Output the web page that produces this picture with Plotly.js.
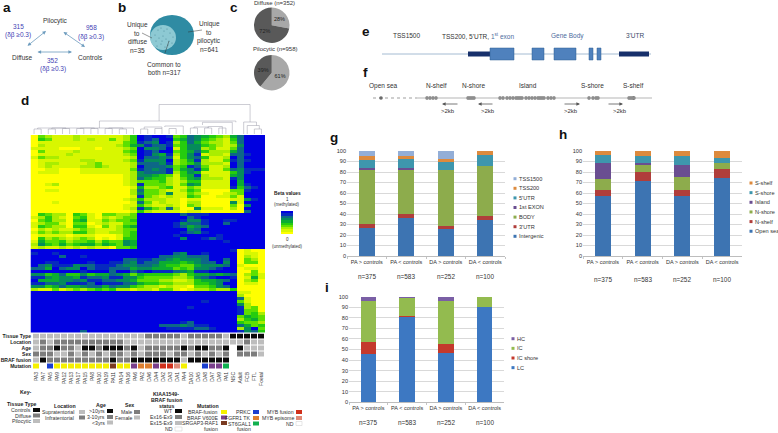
<!DOCTYPE html>
<html><head><meta charset="utf-8">
<script src="https://cdn.plot.ly/plotly-3.0.1.min.js"></script>
<style>html,body{margin:0;padding:0;background:#fff}#c{width:778px;height:433px}</style>
</head><body><div id="c"></div>
<script>
// ---------- DATA ----------
const samples = ["PA3","PA7","PA5","PA9","PA12","PA13","PA17","PA15","PA8","PA10","PA19","PA11","PA14","PA16","PA6","PA2","DA6","DA4","DA2","DA3","DA1","PA4","DA10","DA5","DA8","DA7","DA9","PA1","NSC","Adult","FCB","FTL","Foetal"];
// beta values per probe row, one digit per sample (0 = yellow ... 9 = blue)
const betaRows = [
"032111211111124 98998347654325 7999","043111212113124 98799457643214 7999","011111111111134 87698247532213 7999",
"021111111111235 68778346643212 6999","111100011011123 96679146623113 7999","031111211111134 98799345742225 7999",
"011112111111123 98658246812217 7899","132211111111112 97767146741129 7999","011111122111123 86669235821138 7899",
"012211112311112 77768234622219 7999","012111122321112 97776348731129 7999","001100011111113 87678356841137 6888",
"011100011111112 67778246511114 6899","000000000000012 66543145821115 6999","000000000000012 75442135622218 6999",
"000000000000012 33342124411119 5999","001200000000012 83332136511119 5899","000000000000001 52234113211118 4789",
"001100000000002 73321124300003 3899","000000000000002 63326113210012 3999","000000000000001 83212114300113 1999",
"000000000000012 42221101100001 1689","000100000000001 73121102200006 1999","000000000000011 42112103200003 0699",
"000000000000012 85327200611102 0999","000000000000001 42111101100000 0799",
"043220431033223 99999978889999 9999","124210341021233 99999997899999 9999","034220451132334 99999986689988 9999",
"123310330121133 99999867789979 9999","143220441031245 99999875679999 9999","021211232111233 99999996799999 9999",
"132322442112234 99999987689999 9999","011110111000134 99999899999899 9999","042321232010144 99999969987899 9999",
"153342334243365 99999999999989 9999","264353455354365 99999999999999 9999","121121212110334 99999999999999 9999",
"999999999999999 99999999999998 0100","899899999999999 99999769989999 0110","999979989999999 99977667779999 0210",
"999999999999977 88776566679979 0320","998899998998876 87755545677969 0330","976888677888766 77654433566679 1000",
"775976697887775 66555343667899 0110","999999989997997 89888765889999 0030","664574464557653 54444324556567 0231",
"886566587768866 43333223678998 0151","955566768877665 33322112455679 0230","887768887988877 54433222445699 0110",
"664575567757664 32212110334679 0000","211312323434221 22133101223224 0000",
"999999999999999 99999999999999 1100","999999999999999 99999999999999 2000","999999999999999 99999999999999 7100",
"999999999999999 99999999989999 3100","999999999999999 99999999999999 6200","999999999999999 99999998999999 8230",
"999999999999999 99999999999999 8330","999999999999999 99999999999999 8342","999999999999999 99999999999999 3543",
"999999999999999 99999999999999 2453","999999999999999 99999987999999 4332","999999999999999 99977767889999 7534",
"999999999999999 99998888778999 2693","999999979999999 99999999999999 8674"];
const tileLabels = ["Tissue Type","Location","Age","Sex","BRAF fusion","Mutation"];
// 0 white, 1 light, 2 mid, 3 black, 4 yellow, 5 purple, 6 brown, 7 blue, 8 orange, 9 green, a red, b light red
const tileRows = [
"111111111111111 1222221 22222 1 33333",
"121222222222211 1111111 11111 1 11211",
"122322133233323 1222223 23322 3 03111",
"222112121212212 1222122 12121 2 02221",
"132222222223223 3333331 33333 3 00000",
"40744444444644 5 88 5 aa b 4 00 7 55 9 00000"];
const tileColours = ["#ffffff","#bdbdbd","#7d7d7d","#0a0a0a","#f5f000","#7a3f8c","#7a3a20","#1a3fd0","#dd7f30","#10b050","#d0301c","#e08a78"];
const dendLeft  = [0,2,4,6,8,10,12,0.5,2.5,6.5,10.5,15,17,19,15.5,18.4,22,24,26,22.5,24.5,23.7,9.2,17.6,29.5,30,31];
const dendRight = [1,3,5,7,9,11,13,14,4.5,8.5,12.5,16,18,20,18,21,23,25,27,24.5,26.5,27.9,28.4,30.4,31.3,31.7,32];
const dendTop   = [5,5,5.5,5.5,5.5,5.5,5,6,6,6,6,5,5.5,5.5,7,8,6,6,6,7,7.5,11.7,13,29.5,12,8.5,5];
const dendDropL = [0,0,0,0,0,0,0,5,5,5.5,5.5,0,0,0,5,7,0,0,0,6,6,9,6,13,0,0,0];
const dendDropR = [0,0,0,0,0,0,0,0,5.5,5.5,5,0,0,0,5.5,0,0,0,0,6,0,0,11.7,12,8.5,5,0];
const comparisons = ["PA > controls","PA < controls","DA > controls","DA < controls"];
const counts = ["n=375","n=583","n=252","n=100"];
const gNames = ["Intergenic","3'UTR","BODY","1st EXON","5'UTR","TSS200","TSS1500"];
const gValues = [[27,36.5,26,34],[3.5,3.5,3,4],[51.5,42,52.5,48],[2,1.5,0.5,0],[7,8.5,7.5,10],[4,3.5,2.5,4],[5,4.5,8,0]];
const hNames = ["Open sea","N-shelf","N-shore","Island","S-shore","S-shelf"];
const hValues = [[57,71.5,57,74],[6,8.5,6,8.5],[10.5,7,12,6],[15,1.5,12,0.5],[7.5,7,8.5,4],[4,4.5,4.5,7]];
const iNames = ["LC","IC shore","IC","HC"];
const iValues = [[46,81,47,90],[11.5,1,8.5,0],[38.5,17,40.5,10],[4,1,4,0]];
const gColours = ["#3d74b2","#b03e3b","#8dac4c","#6a4e91","#3e96ad","#dd8a3d","#93aed7"];
const hColours = ["#3d74b2","#b03e3b","#8dac4c","#6a4e91","#3e96ad","#dd8a3d"];
const iColours = ["#3d78c2","#c4392c","#93bb4f","#7a5fa5"];
const pieLabels = ["Methylated A","Methylated B"];
const pieDiffuse = [28,72];
const piePilocytic = [61,39];
const cpgSites = [381,427,430,433,436,468,470,472,474,500,503,507,510,513,516,518,520,522,526,529,532,535,538,540,542,544,548,551,554,589,593,596,598,629,631,633,634];
const legendBeta = [[9],[8],[7],[6],[5],[4],[3],[2],[1],[0]];
const vennDotsX = [155,158,161,164,167,170,173,156,159,163,166,169,172,157,161,165,168,162];
const vennDotsY = [35,30,28,31,29,33,37,41,38,36,39,41,43,46,44,47,45,41];

// ---------- HELPERS ----------
const W=778,H=433;
const dx=(a,b)=>[a/W,b/W], dy=(a,b)=>[1-b/H,1-a/H];
const px=x=>x/W, py=y=>1-y/H;
const annotations=[], shapes=[];
const FONT='"Liberation Sans",Arial,sans-serif';
function T(text,x,y,size,opt={}){
  annotations.push(Object.assign({text,xref:'paper',yref:'paper',x:px(x),y:py(y),showarrow:false,
    xanchor:opt.a||'center',yanchor:'middle',borderpad:0,
    font:{family:FONT,size,color:opt.c||'#333'}},opt.ref||{}));
}
function Rect(x0,y0,x1,y1,fill,line,w){
  shapes.push({type:'rect',xref:'paper',yref:'paper',x0:px(x0),x1:px(x1),y0:py(y0),y1:py(y1),fillcolor:fill,
    line:{color:line||fill,width:line?(w||0.5):0}});
}
function L(x0,y0,x1,y1,color,width,dash){
  shapes.push({type:'line',xref:'paper',yref:'paper',x0:px(x0),x1:px(x1),y0:py(y0),y1:py(y1),line:{color,width,dash:dash||'solid'}});
}
function Arrow(x0,y0,x1,y1,color,both){
  annotations.push({xref:'paper',yref:'paper',axref:'pixel',ayref:'pixel',x:px(x1),y:py(y1),ax:x0-x1,ay:y0-y1,text:'',
    showarrow:true,arrowhead:2,arrowsize:0.9,arrowwidth:0.8,arrowcolor:color,arrowside:both?'end+start':'end',standoff:0,startstandoff:0});
}
const parse=s=>s.replace(/ /g,'').split('').map(c=>parseInt(c,16));
const traces=[];
const layout={width:W,height:H,margin:{l:0,r:0,t:0,b:0},paper_bgcolor:'#fff',plot_bgcolor:'rgba(0,0,0,0)',
  showlegend:false,barmode:'stack',bargap:0.6,font:{family:FONT,color:'#333'},annotations,shapes};

// ---------- OVERLAY ----------
layout.xaxis={domain:[0,1],range:[0,W],visible:false,fixedrange:true};
layout.yaxis={domain:[0,1],range:[H,0],visible:false,fixedrange:true};

// ---------- d: heatmap ----------
const betaScale=[[0,'#ffff00'],[0.2,'#b8f000'],[0.4,'#30d800'],[0.6,'#00a040'],[0.8,'#0f6090'],[0.95,'#0004e0'],[1,'#0000e0']];
traces.push({type:'heatmap',z:betaRows.map(parse),xaxis:'x2',yaxis:'y2',zmin:0,zmax:9,colorscale:betaScale,showscale:false,hoverinfo:'skip'});
layout.xaxis2={domain:dx(30.5,265),range:[-0.5,32.5],visible:false,anchor:'y2'};
layout.yaxis2={domain:dy(135,332.5),range:[betaRows.length-0.5,-0.5],visible:false,anchor:'x2'};

// dendrogram
const dX=[],dY=[];
dendLeft.forEach((l,i)=>{dX.push(l,l,dendRight[i],dendRight[i],null);dY.push(dendDropL[i],dendTop[i],dendTop[i],dendDropR[i],null);});
traces.push({type:'scatter',mode:'lines',x:dX,y:dY,xaxis:'x2',yaxis:'y8',line:{color:'#9a9aa8',width:0.5},hoverinfo:'skip'});
layout.yaxis8={domain:dy(104,134),range:[0,30],visible:false,anchor:'x2'};

// tiles
const tileZ=tileRows.map(parse);
const n=tileColours.length;
const tileScale=[];tileColours.forEach((c,i)=>{tileScale.push([i/n,c],[(i+1)/n,c]);});
traces.push({type:'heatmap',z:tileZ,x:samples.map((s,i)=>i),y:tileLabels.map((s,i)=>i),xaxis:'x3',yaxis:'y3',zmin:-0.5,zmax:n-0.5,
  colorscale:tileScale,showscale:false,xgap:1,ygap:1,hoverinfo:'skip'});
layout.xaxis3={domain:dx(33,265),range:[-0.5,32.5],anchor:'y3',tickmode:'array',tickvals:samples.map((s,i)=>i),ticktext:samples,
  tickangle:-90,tickfont:{size:5,color:'#333'},ticklen:0,showgrid:false,zeroline:false,showline:false};
layout.yaxis3={domain:dy(333.5,369),range:[5.5,-0.5],anchor:'x3',tickmode:'array',tickvals:tileLabels.map((s,i)=>i),
  ticktext:tileLabels.map(s=>'<b>'+s+'</b>'),tickfont:{size:5,color:'#222'},ticklen:0,showgrid:false,zeroline:false,showline:false};

// beta colour legend
traces.push({type:'heatmap',z:legendBeta,xaxis:'x7',yaxis:'y7',zmin:0,zmax:9,colorscale:betaScale,showscale:false,hoverinfo:'skip'});
layout.xaxis7={domain:dx(281,293),visible:false,anchor:'y7'};
layout.yaxis7={domain:dy(211,234),visible:false,anchor:'x7',range:[9.5,-0.5]};
T('<b>Beta values</b>',287,193.5,4.8,{c:'#222'});T('1',287,199,4.5);T('(methylated)',287,204.5,4.5);
T('0',287,240,4.5);T('(unmethylated)',287,246,4.5);

// ---------- g h i: stacked bars ----------
function bars(idx,names,vals,colours,x0,x1,yTop,yBot,nY,lx,ly,dyL){
  const xa='x'+idx, ya='y'+idx;
  names.forEach((nm,i)=>traces.push({type:'bar',name:nm,x:comparisons,y:vals[i],xaxis:xa,yaxis:ya,marker:{color:colours[i],line:{width:0}},hoverinfo:'skip'}));
  layout['xaxis'+idx]={domain:dx(x0,x1),anchor:ya,type:'category',categoryorder:'array',categoryarray:comparisons,tickangle:0,
    tickfont:{size:5.5,color:'#333'},ticks:'outside',tickson:'boundaries',ticklen:2,tickcolor:'#c4c4c4',linecolor:'#bdbdbd',linewidth:1,showline:true,showgrid:false};
  layout['yaxis'+idx]={domain:dy(yTop,yBot),anchor:xa,range:[0,100],dtick:10,tickfont:{size:5.6,color:'#333'},
    gridcolor:'#d9d9d9',gridwidth:1,ticks:'',showline:false,zeroline:false};
  counts.forEach((c,i)=>annotations.push({text:c,xref:xa,yref:'paper',x:comparisons[i],y:py(nY),showarrow:false,yanchor:'middle',xanchor:'center',
    font:{family:FONT,size:6.4,color:'#333'}}));
  names.slice().reverse().forEach((nm,i)=>{
    const c=colours[names.length-1-i], y=ly+i*dyL;
    Rect(lx,y-1.5,lx+3,y+1.5,c);
    T(nm,lx+4.5,y,5.6,{a:'left'});
  });
}
bars(4,gNames,gValues,gColours,347,505,151,256,276.7,513.5,178.7,9.6);
bars(5,hNames,hValues,hColours,583,742,151,256,279,749.5,183,9.65);
bars(6,iNames,iValues,iColours,349,504,296.7,402.3,422,511.5,338.7,9.65);

// ---------- c: pies ----------
const pieCommon={type:'pie',sort:false,direction:'clockwise',rotation:0,textinfo:'percent',textposition:'inside',insidetextorientation:'horizontal',
  textfont:{size:5.5,color:'#222',family:FONT},hoverinfo:'skip',showlegend:false,labels:pieLabels};
traces.push(Object.assign({},pieCommon,{values:pieDiffuse,domain:{x:dx(254,289.5),y:dy(7.5,43)},marker:{colors:['#a8a8a8','#595959'],line:{width:0}}}));
traces.push(Object.assign({},pieCommon,{values:piePilocytic,domain:{x:dx(254,289.5),y:dy(55,90.5)},marker:{colors:['#a8a8a8','#595959'],line:{width:0}}}));
T('Diffuse (n=352)',274,3,6);T('Pilocytic (n=958)',275,49,6);

// ---------- Panel letters ----------
[['a',7,8],['b',122,8],['c',234,8],['d',25,101],['e',366,32],['f',365,73],['g',334,137],['h',563,135],['i',327,287]].forEach(p=>T('<b>'+p[0]+'</b>',p[1],p[2],13.5,{c:'#111'}));

// ---------- a ----------
const blueT='#3f3fb5', arrowC='#6d9cbe';
T('Pilocytic',55,21,6.5);T('Diffuse',22,57,6.5);T('Controls',90,57,6.5);
T('315',18,26,6.5,{c:blueT});T('(δβ ≥0.3)',18,35,6.5,{c:blueT});
T('958',91,28,6.5,{c:blueT});T('(δβ ≥0.3)',91,37,6.5,{c:blueT});
T('352',53,60,6.5,{c:blueT});T('(δβ ≥0.3)',53,69,6.5,{c:blueT});
Arrow(26,47,46,31,arrowC,true);Arrow(62,31,85,47,arrowC,true);Arrow(36,52,72,52,arrowC,true);

// ---------- b ----------
shapes.push({type:'circle',xref:'paper',yref:'paper',x0:px(150),x1:px(194),y0:py(15),y1:py(55),fillcolor:'#2f8ba3',line:{width:0},layer:'below'});
shapes.push({type:'circle',xref:'paper',yref:'paper',x0:px(150),x1:px(176),y0:py(25),y1:py(50),fillcolor:'#8dc9d3',line:{width:0},layer:'below'});
traces.push({type:'scatter',mode:'markers',x:vennDotsX,y:vennDotsY,xaxis:'x',yaxis:'y',marker:{color:'#4f8f9f',size:1.2},hoverinfo:'skip'});
L(142,33,152,38,'#333',0.5);L(188,32,202,30,'#333',0.5);L(165,53,169,41,'#333',0.5);
['Unique','to','diffuse','n=35'].forEach((s,i)=>T(s,137,25+i*8.4,6.5,{}));
['Unique','to','pilocytic','n=641'].forEach((s,i)=>T(s,209,24+i*8.4,6.5,{}));
T('Common to',164,64,6.5);T('both n=317',164,72.5,6.5);

// ---------- e ----------
const gb='#4a6a9d';
T('TSS1500',406,36,6.5);
T('TSS200, 5\'UTR, <span style="color:'+gb+'">1<sup>st</sup> exon</span>',478,36,6.5);
T('Gene Body',567,36,6.5,{c:gb});T('3\'UTR',635,36,6.5,{c:'#3a4a6a'});
L(382,54,651,54,'#a4bbd2',1);
[[468,490,'#17306b',51.5,56.5],[490,514,'#4f81bd',48,60],[532,544,'#4f81bd',48,60],[554,576,'#4f81bd',48,60],[589,593,'#4f81bd',48,60],[597,601,'#4f81bd',48,60],[619,649,'#17306b',51.5,56.5]]
 .forEach(b=>Rect(b[0],b[3],b[1],b[4],b[2],b[2]=='#4f81bd'?'#2f5f93':null,0.5));

// ---------- f ----------
T('Open sea',383,86,6.5);T('N-shelf',436,86,6.5);T('N-shore',474,86,6.5);T('Island',528,86,6.5);T('S-shore',592,86,6.5);T('S-shelf',633,86,6.5);
L(373,98,417,98,'#777',0.7,'dot');L(417,98,652,98,'#b5b5b5',1);
traces.push({type:'scatter',mode:'markers',x:cpgSites,y:cpgSites.map(()=>98),xaxis:'x',yaxis:'y',marker:{color:'#666',size:3.6,symbol:'circle'},hoverinfo:'skip'});
[[459,442,448],[494,478,488],[563,580,571],[607,623,620]].forEach(a=>{
  Arrow(a[0],104,a[1],104,'#555',false);T('>2kb',a[2],111,6,{});
});

// ---------- Key ----------
T('<b>Key-</b>',26,392,5.2,{c:'#222'});
function keyGroup(title,tx,ty,items,rx,sx,sw){
  if(title) T('<b>'+title+'</b>',tx,ty,5.2,{c:'#222'});
  items.forEach(it=>{
    T(it[0],rx,it[1],5.2,{a:'right'});
    if(it[2]) Rect(sx,it[1]-2,sx+sw,it[1]+2,it[2],it[2]=='#ffffff'?'#ccc':null,0.5);
  });
}
keyGroup('Tissue Type',22,404,[['Controls',410,'#0a0a0a'],['Diffuse',415.5,'#7d7d7d'],['Pilocytic',421,'#bdbdbd']],32,33,7);
keyGroup('Location',65,406,[['Supratentorial',412,'#bdbdbd'],['Infratentorial',417.5,'#7d7d7d']],75,79,6);
keyGroup('Age',101,405,[['>10yrs',411,'#0a0a0a'],['3-10yrs',417,'#7d7d7d'],['<3yrs',422.5,'#bdbdbd']],106,107,6);
keyGroup('Sex',129,405,[['Male',412,'#7d7d7d'],['Female',417.5,'#bdbdbd']],133,134,6);
T('<b>KIAA1549-</b>',166,394,5.2,{c:'#222'});T('<b>BRAF fusion</b>',166,400,5.2,{c:'#222'});T('<b>status</b>',166,406,5.2,{c:'#222'});
keyGroup('',0,0,[['WT',411,'#0a0a0a'],['Ex16-Ex9',417,'#7d7d7d'],['Ex15-Ex9',423,'#bdbdbd'],['ND',429,'#ffffff']],174,175,7);
keyGroup('Mutation',208,406,[['BRAF-fusion',412,'#f5f000'],['BRAF V600E',417.5,'#7a3f8c'],['SRGAP3-RAF1',423,'#7a3a20'],['fusion',429,null]],219,221,6);
keyGroup('',0,0,[['PRKC',412,'#1a3fd0'],['FGFR1 TK',418,'#dd7f30'],['ST6GAL1',423.5,'#10b050'],['fusion',429,null]],252,253,6);
keyGroup('',0,0,[['MYB fusion',412,'#d0301c'],['MYB episome',418,'#e08a78'],['ND',423.5,'#ffffff']],295,296,6);

Plotly.newPlot('c',traces,layout,{displayModeBar:false,staticPlot:true});
</script></body></html>
